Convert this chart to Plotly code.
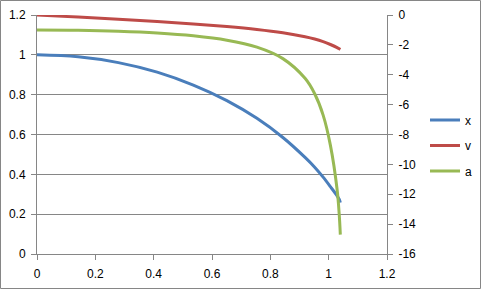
import plotly.graph_objects as go

# data
t = [0, 0.141, 0.279, 0.412, 0.536, 0.651, 0.754, 0.843, 0.919, 0.952, 0.981, 1.006, 1.029, 1.036, 1.040]
x_vals = [1.0, 0.990, 0.961, 0.913, 0.848, 0.770, 0.681, 0.585, 0.485, 0.436, 0.386, 0.338, 0.292, 0.275, 0.258]
v_vals = [0.0, -0.142, -0.287, -0.437, -0.598, -0.773, -0.968, -1.191, -1.456, -1.609, -1.782, -1.975, -2.18, -2.26, -2.31]
a_vals = [-1.0, -1.02, -1.084, -1.20, -1.39, -1.686, -2.155, -2.92, -4.24, -5.27, -6.70, -8.73, -11.7, -13.3, -14.7]

x_ticks = [0, 0.2, 0.4, 0.6, 0.8, 1, 1.2]
y_ticks = [0, 0.2, 0.4, 0.6, 0.8, 1, 1.2]
y2_ticks = [0, -2, -4, -6, -8, -10, -12, -14, -16]
y2_text = ["0", "-2", "-4", "-6", "-8", "-10", "-12", "-14", "-16"]

W, H = 481, 289
L, R, T, B = 37, 94, 15, 35
pw, ph = W - L - R, H - T - B

font = dict(family="Liberation Sans, Arial, sans-serif", size=12, color="#000000")
grid = "#868686"

fig = go.Figure()
fig.add_trace(go.Scatter(x=t, y=x_vals, name="x", mode="lines", line=dict(color="#4A7EBB", width=3, shape="spline"), legendgroup="x"))
fig.add_trace(go.Scatter(x=t, y=v_vals, name="v", mode="lines", yaxis="y2", line=dict(color="#BE4B48", width=3, shape="spline"), legendgroup="v"))
fig.add_trace(go.Scatter(x=t, y=a_vals, name="a", mode="lines", yaxis="y2", line=dict(color="#98B954", width=3, shape="spline"), legendgroup="a"))

fig.update_layout(
    width=W, height=H,
    margin=dict(l=L, r=R, t=T, b=B, pad=0, autoexpand=False),
    paper_bgcolor="white", plot_bgcolor="white",
    font=font,
    xaxis=dict(range=[0, 1.2], tickvals=x_ticks, showgrid=False, zeroline=False, automargin=False,
               showline=True, linecolor=grid, linewidth=1, ticks="outside", ticklen=5,
               tickcolor=grid, ticklabelstandoff=4),
    yaxis=dict(range=[0, 1.2], tickvals=y_ticks, showgrid=True, gridcolor=grid, gridwidth=1,
               zeroline=False, showline=True, linecolor=grid, linewidth=1, ticks="outside",
               automargin=False, ticklen=5, tickcolor=grid, ticklabelstandoff=3),
    yaxis2=dict(range=[-16, 0], tickvals=y2_ticks, ticktext=y2_text, overlaying="y", side="right",
                showgrid=False, zeroline=False, showline=True, linecolor=grid, linewidth=1,
                automargin=False, ticks="outside", ticklen=5, tickcolor=grid, ticklabelstandoff=3),
    legend=dict(x=(425 - L) / pw, xanchor="left", y=1 - (105.5 - T) / ph, yanchor="top",
                font=font, traceorder="grouped", tracegroupgap=6.5, itemwidth=30,
                bgcolor="rgba(0,0,0,0)"),
    showlegend=True,
)

# outer chart border
fig.add_shape(type="rect", xref="paper", yref="paper",
              x0=(-L + 0.5) / pw, x1=(W - L - 0.5) / pw,
              y0=(-(B) + 0.5) / ph, y1=(ph + T - 0.5) / ph,
              line=dict(color="#868686", width=1), fillcolor="rgba(0,0,0,0)", layer="below")

fig.write_html("out.html")
